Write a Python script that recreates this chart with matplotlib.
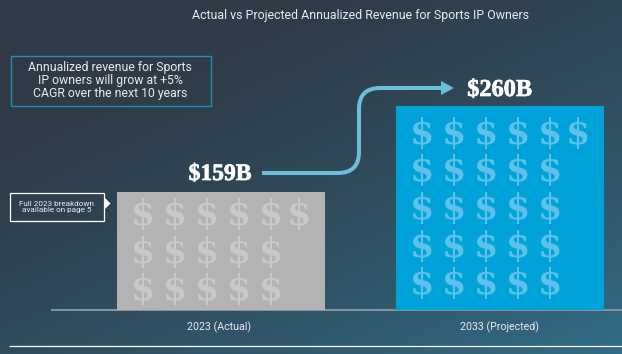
import numpy as np
import matplotlib
matplotlib.use("Agg")
import matplotlib.pyplot as plt
import matplotlib.patheffects as pe
from matplotlib.patches import PathPatch, Polygon, Rectangle
from matplotlib.path import Path

# values (bars are not drawn to scale in the original)
categories = ["2023 (Actual)", "2033 (Projected)"]
revenue_labels = ["$159B", "$260B"]
bar_heights = [118, 204]
bar_colors = ["#b3b3b3", "#00a3d9"]
dollar_colors = ["#c9c9c9", "#5dc1e8"]
dollar_rows = [[6, 5, 5], [6, 5, 5, 5, 5]]
title = "Actual vs Projected Annualized Revenue for Sports IP Owners"
note = "Annualized revenue for Sports\nIP owners will grow at +5%\nCAGR over the next 10 years"
callout = "Full 2023 breakdown\navailable on page 5"

W, H = 622, 354
BASE = 310  # pixel row of the baseline
SANS = "Roboto"
SERIF = "Liberation Serif"

fig = plt.figure(figsize=(W / 100, H / 100), dpi=100)
ax = fig.add_axes([0, 0, 1, 1])
ax.set_xlim(0, W)
ax.set_ylim(BASE - H, BASE)
ax.axis("off")

# diagonal background gradient
gx, gy = np.meshgrid(np.linspace(0, 1, W), np.linspace(0, 1, H))
g = np.clip((gx * 0.6 + gy * 0.75 - 0.25) / 1.1, 0, 1)[..., None] ** 1.3
c0 = np.array([47, 58, 70]) / 255
c1 = np.array([50, 108, 134]) / 255
ax.imshow(c0 + (c1 - c0) * g, extent=[0, W, BASE - H, BASE], aspect="auto", zorder=0, origin="upper")

# baseline and footer rule
ax.plot([51, W], [0.5, 0.5], color="#8e9ba3", lw=1.3, zorder=1, solid_capstyle="butt")
ax.plot([9, W], [-35.5, -35.5], color="white", lw=0.9, zorder=1, solid_capstyle="butt")

centers = [221, 500]
bars = ax.bar(centers, bar_heights, width=208, color=bar_colors, zorder=2)

# dollar pictogram inside each bar
row_tops = [97, 178]
for i, rows in enumerate(dollar_rows):
    x0 = centers[i] - 78
    for r, n in enumerate(rows):
        y = row_tops[i] - r * 37.5
        for k in range(n):
            last = k == 5
            x = x0 + k * 32 - (4 if last else 0)
            t = ax.text(x, y - 2, "$", family="DejaVu Serif", weight="bold", fontsize=25,
                        color=dollar_colors[i], ha="center", va="center", zorder=3)
            if i == 0 and r == 2 and k == 4:
                # last symbol is only partly filled (15.9 of 16)
                t.set_clip_path(Rectangle((x - 12, y - 20), 17, 40, transform=ax.transData))

# value labels
heavy = [pe.withStroke(linewidth=0.5, foreground="white")]
ax.text(220, BASE - 172 - 2.5, revenue_labels[0], family=SERIF, weight="bold", fontsize=17, color="white", ha="center", va="center", zorder=4, path_effects=heavy)
ax.text(499.5, BASE - 88 - 2.5, revenue_labels[1], family=SERIF, weight="bold", fontsize=17.5, color="white", ha="center", va="center", zorder=4, path_effects=heavy)

# category labels
for c, lab in zip([219, 500], categories):
    ax.text(c, BASE - 327, lab, family=SANS, fontsize=7.7, color="#e6ecef", ha="center", va="center", zorder=4)

ax.text(360, BASE - 15, title, family=SANS, fontsize=8.9, color="#e6ecef", ha="center", va="center", zorder=4)

# note box
ax.add_patch(Rectangle((10.5, BASE - 105.5), 200, 50, fill=False, ec="#1f8fb5", lw=1.0, zorder=3))
ax.text(110, BASE - 80.5, note, family=SANS, fontsize=8.8, color="#e6ecef", ha="center", va="center", linespacing=1.0, zorder=4)

# callout
ax.add_patch(Rectangle((9.5, BASE - 221), 94, 28, fc="none", ec="white", lw=0.9, zorder=3))
ax.add_patch(Polygon([(104, BASE - 197), (110.5, BASE - 203.5), (104, BASE - 210)], fc="white", ec="none", zorder=3))
ax.text(56.5, BASE - 207, callout, family=SANS, fontsize=5.9, color="#e6ecef", ha="center", va="center", linespacing=0.95, zorder=4)

# connector arrow between the two labels
verts = [(262, BASE - 173), (338, BASE - 173), (359, BASE - 173), (359, BASE - 152), (359, BASE - 109),
         (359, BASE - 88), (380, BASE - 88), (442, BASE - 88)]
codes = [Path.MOVETO, Path.LINETO, Path.CURVE3, Path.CURVE3, Path.LINETO, Path.CURVE3, Path.CURVE3, Path.LINETO]
ax.add_patch(PathPatch(Path(verts, codes), fc="none", ec="#6cbfd8", lw=2.9, capstyle="butt", zorder=3))
ax.add_patch(Polygon([(441, BASE - 81), (454, BASE - 88), (441, BASE - 95)], fc="#6cbfd8", ec="none", zorder=3))

fig.savefig("out.png", dpi=100)
